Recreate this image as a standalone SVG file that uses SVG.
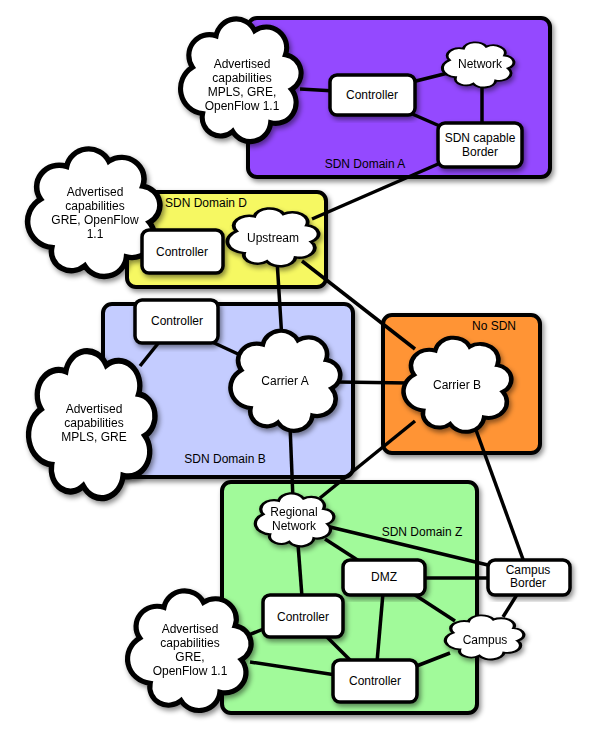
<svg xmlns="http://www.w3.org/2000/svg" width="591" height="740" viewBox="0 0 591 740">
<style>
  .dom { stroke: #000; stroke-width: 4; filter: url(#sh); }
  .box { fill: #fff; stroke: #000; stroke-width: 3.5; filter: url(#sh); }
  .cl { fill: #fff; stroke: #000; stroke-width: 3.8; vector-effect: non-scaling-stroke; }
  .conn line { stroke: #000; stroke-width: 3.5; stroke-linecap: butt; }
  text { font-family: "Liberation Sans", Arial, sans-serif; font-size: 12px; fill: #000; text-anchor: middle; }
</style>
<defs>
  <filter id="sh" x="-10%" y="-10%" width="130%" height="130%">
    <feDropShadow dx="2" dy="3" stdDeviation="2.5" flood-color="#000" flood-opacity="0.45"/>
  </filter>
  <path id="cp" d="M13.3,40.2 A15.3,15.3 0 0 1 31,17.1 A15.3,15.3 0 0 1 59.8,13.3 A15.3,15.3 0 0 1 82.9,31 A13.7,13.7 0 0 1 87.4,56.6 A15.3,15.3 0 0 1 71.8,81.1 A15.3,15.3 0 0 1 43.4,87.4 A13.7,13.7 0 0 1 20.9,74.4 A18.5,18.5 0 0 1 13.3,40.2 Z"/>
</defs>

<!-- Domains -->
<g id="domainA">
  <rect class="dom" x="248" y="18" width="302" height="159" rx="9" fill="#9448FF"/>
  <text x="365" y="168">SDN Domain A</text>
</g>
<g id="domainD">
  <rect class="dom" x="127" y="192" width="199" height="95" rx="9" fill="#F6F862"/>
  <text x="206" y="207">SDN Domain D</text>
</g>
<g id="domainB">
  <rect class="dom" x="103" y="304" width="250" height="173" rx="9" fill="#C4CCFF"/>
  <text x="225" y="463">SDN Domain B</text>
</g>
<g id="domainNoSDN">
  <rect class="dom" x="383" y="315" width="157" height="138" rx="9" fill="#FF9435"/>
  <text x="494" y="330">No SDN</text>
</g>
<g id="domainZ">
  <rect class="dom" x="222" y="482" width="255" height="231" rx="9" fill="#A1FA9A"/>
  <text x="422" y="536">SDN Domain Z</text>
</g>

<!-- Connectors -->
<g id="connectors" class="conn">
  <line x1="300" y1="89" x2="335" y2="91"/>
  <line x1="412" y1="82" x2="448" y2="73"/>
  <line x1="410" y1="113" x2="442" y2="127"/>
  <line x1="482" y1="84" x2="482" y2="126"/>
  <line x1="445" y1="161" x2="312" y2="219"/>
  <line x1="277" y1="260" x2="282" y2="340"/>
  <line x1="302" y1="261" x2="415" y2="349"/>
  <line x1="160" y1="341" x2="140" y2="366"/>
  <line x1="210" y1="341" x2="238" y2="354"/>
  <line x1="338" y1="382" x2="408" y2="383"/>
  <line x1="290" y1="425" x2="293" y2="500"/>
  <line x1="415" y1="421" x2="320" y2="498"/>
  <line x1="476" y1="430" x2="524" y2="562"/>
  <line x1="325" y1="539" x2="359" y2="561"/>
  <line x1="330" y1="527" x2="492" y2="566"/>
  <line x1="298" y1="544" x2="302" y2="597"/>
  <line x1="422" y1="578" x2="491" y2="578"/>
  <line x1="412" y1="593" x2="455" y2="621"/>
  <line x1="383" y1="593" x2="377" y2="662"/>
  <line x1="518" y1="593" x2="503" y2="617"/>
  <line x1="326" y1="636" x2="352" y2="662"/>
  <line x1="246" y1="636" x2="266" y2="628"/>
  <line x1="250" y1="662" x2="336" y2="675"/>
  <line x1="414" y1="667" x2="450" y2="653"/>
</g>

<!-- Nodes: Domain A -->
<g id="cloudA" filter="url(#sh)">
  <use href="#cp" class="cl" transform="translate(174.65,12.57) scale(1.337,1.359)"/>
  <text x="242" y="67.5">Advertised</text>
  <text x="242" y="81.5">capabilities</text>
  <text x="242" y="95.5">MPLS, GRE,</text>
  <text x="242" y="109.5">OpenFlow 1.1</text>
</g>
<g id="controllerA">
  <rect class="box" x="330" y="75" width="85" height="40" rx="7"/>
  <text x="372" y="99">Controller</text>
</g>
<g id="networkA" filter="url(#sh)">
  <use href="#cp" class="cl" transform="translate(438.83,40) scale(0.7935,0.5)"/>
  <text x="480" y="68">Network</text>
</g>
<g id="borderA">
  <rect class="box" x="438" y="123" width="84" height="44" rx="7"/>
  <text x="480" y="142">SDN capable</text>
  <text x="480" y="156">Border</text>
</g>

<!-- Domain D -->
<g id="cloudD" filter="url(#sh)">
  <use href="#cp" class="cl" transform="translate(21.13,142.35) scale(1.467,1.413)"/>
  <text x="95" y="196">Advertised</text>
  <text x="95" y="210">capabilities</text>
  <text x="95" y="224">GRE, OpenFlow</text>
  <text x="95" y="238">1.1</text>
</g>
<g id="controllerD">
  <rect class="box" x="142" y="230" width="81" height="43" rx="7"/>
  <text x="182" y="256">Controller</text>
</g>
<g id="upstream" filter="url(#sh)">
  <use href="#cp" class="cl" transform="translate(222.96,205.43) scale(1.011,0.641)"/>
  <text x="273" y="242">Upstream</text>
</g>

<!-- Domain B -->
<g id="controllerB">
  <rect class="box" x="135" y="300" width="83" height="43" rx="7"/>
  <text x="177" y="325">Controller</text>
</g>
<g id="carrierA" filter="url(#sh)">
  <use href="#cp" class="cl" transform="translate(225.13,325.57) scale(1.217,1.109)"/>
  <text x="285" y="385">Carrier A</text>
</g>
<g id="cloudB" filter="url(#sh)">
  <use href="#cp" class="cl" transform="translate(22.39,343.48) scale(1.402,1.63)"/>
  <text x="94" y="413">Advertised</text>
  <text x="94" y="427">capabilities</text>
  <text x="94" y="441">MPLS, GRE</text>
</g>

<!-- No SDN -->
<g id="carrierB" filter="url(#sh)">
  <use href="#cp" class="cl" transform="translate(398.22,332.83) scale(1.196,1.043)"/>
  <text x="457" y="389">Carrier B</text>
</g>

<!-- Domain Z -->
<g id="regional" filter="url(#sh)">
  <use href="#cp" class="cl" transform="translate(251.52,490.65) scale(0.87,0.587)"/>
  <text x="294" y="516">Regional</text>
  <text x="294" y="530">Network</text>
</g>
<g id="dmz">
  <rect class="box" x="343" y="560" width="82" height="35" rx="7"/>
  <text x="384" y="581">DMZ</text>
</g>
<g id="campusBorder">
  <rect class="box" x="488" y="560" width="82" height="35" rx="7"/>
  <text x="528" y="574">Campus</text>
  <text x="528" y="587">Border</text>
</g>
<g id="controllerZ1">
  <rect class="box" x="263" y="595" width="80" height="42" rx="7"/>
  <text x="303" y="621">Controller</text>
</g>
<g id="controllerZ2">
  <rect class="box" x="333" y="660" width="84" height="42" rx="7"/>
  <text x="375" y="685">Controller</text>
</g>
<g id="campus" filter="url(#sh)">
  <use href="#cp" class="cl" transform="translate(441.52,613.04) scale(0.87,0.489)"/>
  <text x="485" y="644">Campus</text>
</g>
<g id="cloudZ" filter="url(#sh)">
  <use href="#cp" class="cl" transform="translate(121.52,584.7) scale(1.37,1.326)"/>
  <text x="190" y="633">Advertised</text>
  <text x="190" y="647">capabilities</text>
  <text x="190" y="661">GRE,</text>
  <text x="190" y="675">OpenFlow 1.1</text>
</g>
</svg>
